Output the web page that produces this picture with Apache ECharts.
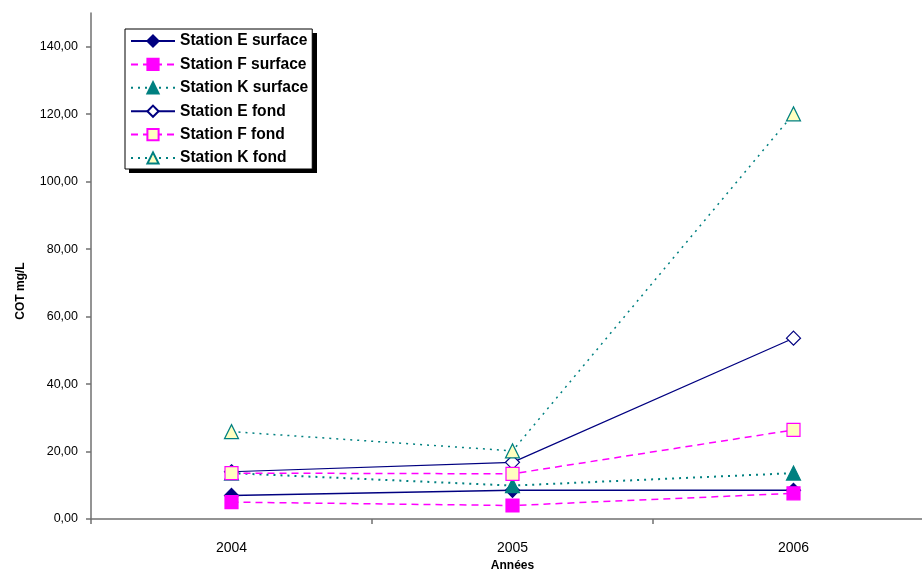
<!DOCTYPE html>
<html>
<head>
<meta charset="utf-8">
<script src="https://cdn.jsdelivr.net/npm/echarts@6/dist/echarts.min.js"></script>
<style>
  html, body { margin: 0; padding: 0; background: #fff; }
  #chart { width: 922px; height: 572px; }
</style>
</head>
<body>
<div id="chart"></div>
<script>
// Years sampled
const years = ['2004', '2005', '2006'];

// COT (mg/L) per station, surface and bottom samples
const stationESurface = [7.0, 8.5, 8.5];
const stationFSurface = [5.0, 4.0, 7.6];
const stationKSurface = [13.6, 9.9, 13.6];
const stationEFond = [14.0, 16.8, 53.6];
const stationFFond = [13.6, 13.4, 26.4];
const stationKFond = [25.9, 20.2, 120.1];

const NAVY = '#000080';
const MAGENTA = '#FF00FF';
const TEAL = '#008080';
const PALE = '#FFFFC0';
const FONT = '"Liberation Sans", Arial, sans-serif';

function frFormat(v) {
  return v.toFixed(2).replace('.', ',');
}

function lineSeries(name, data, lineColor, lineType, lineWidth, symbol, size, fill, border) {
  return {
    name: name,
    type: 'line',
    data: data,
    symbol: symbol,
    symbolSize: size,
    showAllSymbol: true,
    lineStyle: { color: lineColor, type: lineType, width: lineWidth },
    itemStyle: { color: fill, borderColor: border, borderWidth: 1.2 },
    emphasis: { disabled: true },
    animation: false,
    z: 3
  };
}

const chart = echarts.init(document.getElementById('chart'), null, { renderer: 'canvas' });

chart.setOption({
  backgroundColor: '#ffffff',
  textStyle: { fontFamily: FONT },
  // plot area runs past the right edge of the canvas
  grid: { left: 91, top: 13, width: 843, bottom: 53, containLabel: false, outerBoundsMode: 'none' },
  // drop shadow behind the legend box
  graphic: [{
    type: 'rect',
    left: 129,
    top: 33,
    shape: { width: 188, height: 140 },
    style: { fill: '#000000' },
    z: 1,
    silent: true
  }],
  legend: {
    left: 125,
    top: 29,
    orient: 'vertical',
    padding: [4, 4, 3, 5],
    itemWidth: 44,
    itemHeight: 14,
    itemGap: 7.4,
    backgroundColor: '#ffffff',
    borderColor: '#000000',
    borderWidth: 1,
    z: 5,
    textStyle: { fontFamily: FONT, fontSize: 15.6, lineHeight: 16, fontWeight: 'bold', color: '#000' },
    data: ['Station E surface', 'Station F surface', 'Station K surface',
           'Station E fond', 'Station F fond', 'Station K fond']
  },
  xAxis: {
    type: 'category',
    data: years,
    boundaryGap: true,
    name: 'Années',
    nameLocation: 'middle',
    nameGap: 40,
    nameTextStyle: { fontFamily: FONT, fontSize: 12, fontWeight: 'bold', color: '#000' },
    axisLine: { lineStyle: { color: '#707070', width: 1.5 } },
    axisTick: { show: true, alignWithLabel: false, length: 5, lineStyle: { color: '#707070', width: 1.5 } },
    axisLabel: { margin: 22, fontFamily: FONT, fontSize: 14, color: '#000' },
    splitLine: { show: false }
  },
  yAxis: {
    type: 'value',
    min: 0,
    max: 150,
    interval: 20,
    name: 'COT mg/L',
    nameLocation: 'middle',
    nameGap: 64,
    nameRotate: 90,
    nameTextStyle: { fontFamily: FONT, fontSize: 12, fontWeight: 'bold', color: '#000', padding: [0, 0, 0, -50] },
    axisLine: { show: true, lineStyle: { color: '#707070', width: 1.5 } },
    axisTick: { show: true, length: 5, lineStyle: { color: '#707070', width: 1.5 } },
    axisLabel: {
      margin: 13,
      fontFamily: FONT,
      fontSize: 12.5,
      color: '#000',
      showMaxLabel: false,
      formatter: function (v) { return v > 140 ? '' : frFormat(v); }
    },
    splitLine: { show: false }
  },
  series: [
    lineSeries('Station E surface', stationESurface, NAVY, 'solid', 1.5, 'diamond', 14, NAVY, NAVY),
    lineSeries('Station F surface', stationFSurface, MAGENTA, [7, 5], 1.5, 'rect', 13, MAGENTA, MAGENTA),
    lineSeries('Station K surface', stationKSurface, TEAL, [2, 5], 2, 'triangle', 14, TEAL, TEAL),
    lineSeries('Station E fond', stationEFond, NAVY, 'solid', 1.2, 'diamond', 14, '#ffffff', NAVY),
    lineSeries('Station F fond', stationFFond, MAGENTA, [7, 5], 1.5, 'rect', 13, PALE, MAGENTA),
    lineSeries('Station K fond', stationKFond, TEAL, [2, 5], 1.5, 'triangle', 14, PALE, TEAL)
  ]
});
</script>
</body>
</html>
